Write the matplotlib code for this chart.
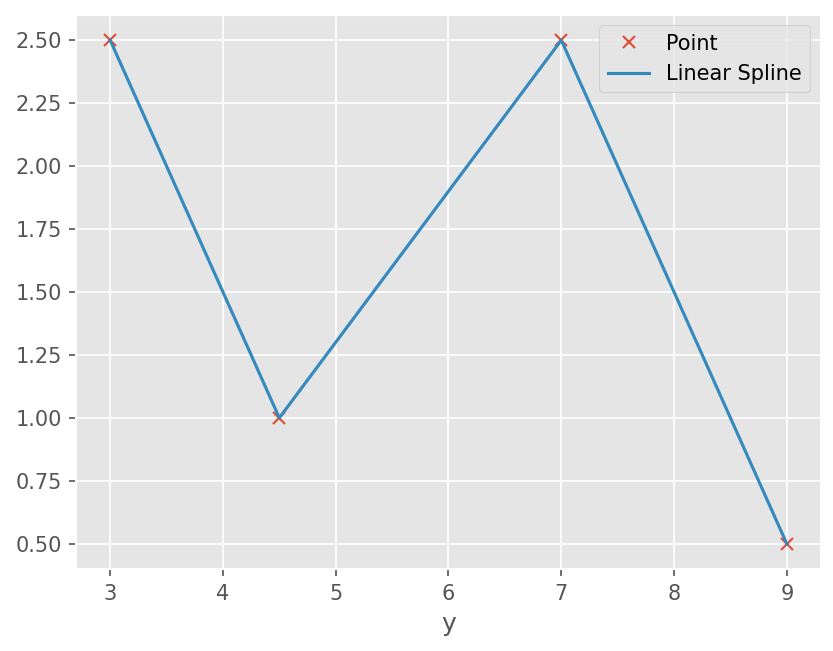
import matplotlib
matplotlib.use("Agg")
import matplotlib.pyplot as plt

plt.style.use("ggplot")

x_points = [3, 4.5, 7, 9]
y_points = [2.5, 1.0, 2.5, 0.5]

fig = plt.figure(figsize=(5.56, 4.34), dpi=150)
ax = fig.add_axes([0.0915, 0.126, 0.8925, 0.851])
ax.plot(x_points, y_points, "x", label="Point")
ax.plot(x_points, y_points, "-", label="Linear Spline")
ax.set_xlabel("y")
ax.legend(loc="upper right")
fig.savefig("out.png", dpi=150)
